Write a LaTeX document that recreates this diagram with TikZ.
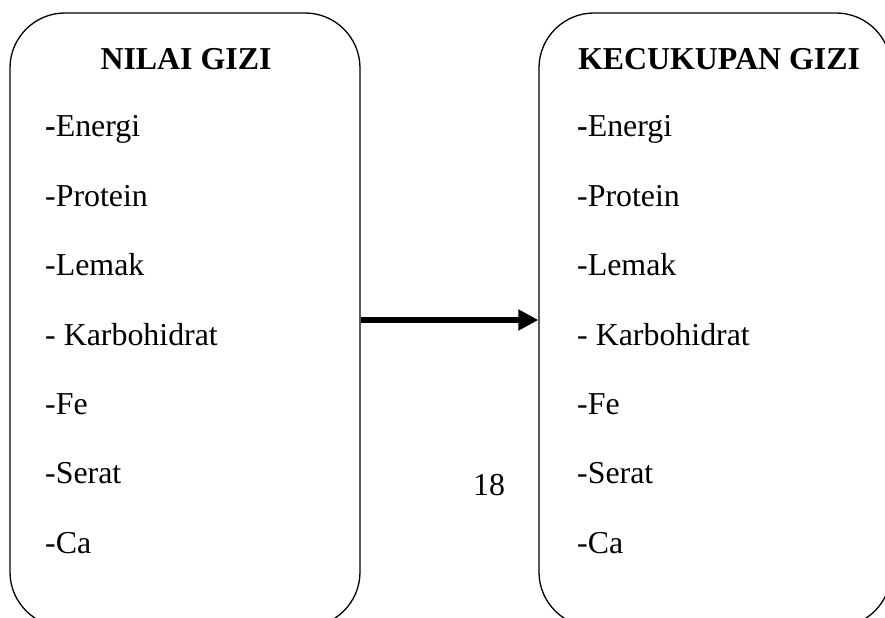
\documentclass[tikz,border=0pt]{standalone}
\usepackage{fontspec}
\setmainfont{Liberation Serif}
\usetikzlibrary{arrows.meta}
\tikzset{
  gbox/.style={draw, line width=1.3bp, rounded corners=55bp, inner sep=0pt},
  item/.style={anchor=base west, inner sep=0pt, font=\fontsize{32}{38}\selectfont},
  head/.style={anchor=base, inner sep=0pt, font=\fontsize{32}{38}\selectfont\bfseries},
  flow/.style={line width=6.5bp, -{Triangle[length=20bp,width=20bp]}}
}
\begin{document}
\begin{tikzpicture}[x=1bp,y=-1bp]
\useasboundingbox (0,0) rectangle (885,618);
\node[gbox, minimum width=350bp, minimum height=614bp] (lbox) at (185,320) {};
\node[gbox, minimum width=352bp, minimum height=614bp] (rbox) at (715,320) {};
\draw[flow] (lbox.east) -- (rbox.west);
% left box
\node[head] (lh) at (186,70) {NILAI GIZI};
\node[item] (l1) at (45,137) {\textbf{-}Energi};
\node[item] (l2) at (45,206.3) {-Protein};
\node[item] (l3) at (45,275.7) {-Lemak};
\node[item] (l4) at (45,345) {- Karbohidrat};
\node[item] (l5) at (45,414.3) {-Fe};
\node[item] (l6) at (45,483.7) {-Serat};
\node[item] (l7) at (45,553) {-Ca};
% right box
\node[head] (rh) at (719,70) {KECUKUPAN GIZI};
\node[item] (r1) at (577,137) {\textbf{-}Energi};
\node[item] (r2) at (577,206.3) {-Protein};
\node[item] (r3) at (577,275.7) {-Lemak};
\node[item] (r4) at (577,345) {- Karbohidrat};
\node[item] (r5) at (577,414.3) {-Fe};
\node[item] (r6) at (577,483.7) {-Serat};
\node[item] (r7) at (577,553) {-Ca};
% page number
\node[item] (pg) at (473,495) {18};
\end{tikzpicture}
\end{document}
